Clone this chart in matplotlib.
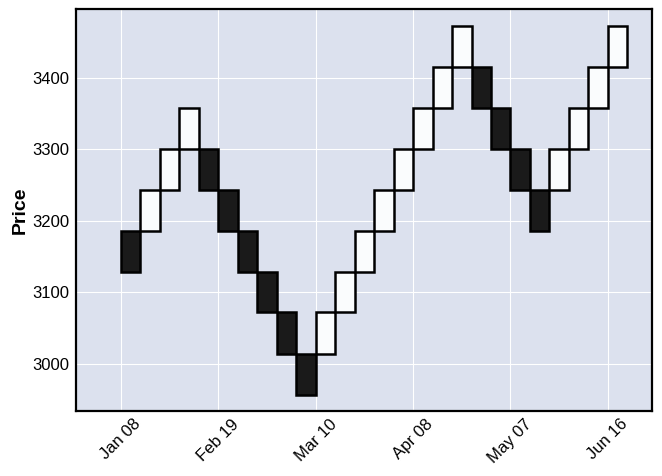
import matplotlib
matplotlib.use("Agg")
import matplotlib.pyplot as plt
from matplotlib.patches import Rectangle

# Renko bricks (open -> close)
brick_open = [3186, 3186, 3243, 3300, 3300, 3243, 3186, 3129, 3072, 3014,
              3014, 3072, 3129, 3186, 3243, 3300, 3357, 3415,
              3415, 3357, 3300, 3243,
              3243, 3300, 3357, 3415]
brick_close = [3129, 3243, 3300, 3357, 3243, 3186, 3129, 3072, 3014, 2957,
               3072, 3129, 3186, 3243, 3300, 3357, 3415, 3472,
               3357, 3300, 3243, 3186,
               3300, 3357, 3415, 3472]
tick_positions = [0, 5, 10, 15, 20, 25]
tick_labels = ["Jan 08", "Feb 19", "Mar 10", "Apr 08", "May 07", "Jun 16"]
y_ticks = [3000, 3100, 3200, 3300, 3400]

plt.rcParams['font.family'] = ['Liberation Sans', 'DejaVu Sans']

fig = plt.figure(figsize=(6.62, 4.76), dpi=100)
ax = fig.add_axes([0.1148, 0.1366, 0.8702, 0.8445])
ax.set_facecolor('#DCE1EE')

for i, (o, c) in enumerate(zip(brick_open, brick_close)):
    up = c > o
    low = min(o, c)
    h = abs(c - o)
    ax.add_patch(Rectangle((i, low), 1, h,
                           facecolor='#FAFCFD' if up else '#1A1A1A',
                           edgecolor='black', linewidth=1.8, zorder=3))

ax.set_xlim(-2.31, 27.27)
ax.set_ylim(2934, 3496)
ax.set_xticks(tick_positions)
ax.set_xticklabels(tick_labels, rotation=45, fontsize=12, ha='center')
ax.set_yticks(y_ticks)
ax.tick_params(axis='y', labelsize=12, length=0, pad=5)
ax.tick_params(axis='x', length=0, pad=4)
ax.grid(True, color='white', linewidth=0.8, zorder=0)
ax.set_axisbelow(True)
for s in ax.spines.values():
    s.set_color('black')
    s.set_linewidth(1.6)
ax.set_ylabel('Price', fontsize=14, fontweight='bold', labelpad=2)

fig.savefig('out.png', dpi=100)
